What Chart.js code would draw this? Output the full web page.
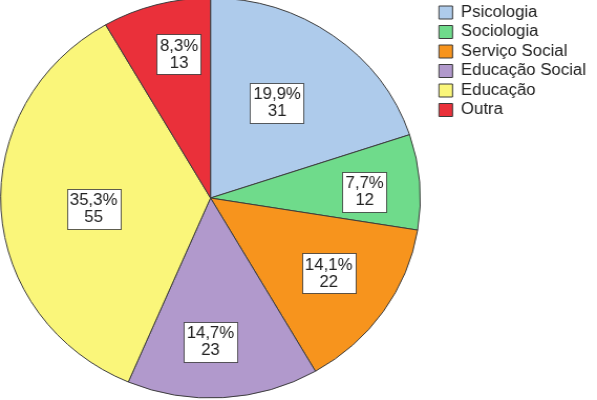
<!DOCTYPE html>
<html lang="pt-br">
<head>
<meta charset="UTF-8" />
<title>Área de formação</title>
<script src="https://cdn.jsdelivr.net/npm/chart.js"></script>
<style>
  html, body { margin: 0; padding: 0; background: #fff; overflow: hidden; }
  /* a imagem original está ligeiramente esticada na horizontal */
  .grafico { width: 569px; height: 400px; transform: scaleX(1.0492); transform-origin: 0 0; }
</style>
</head>
<body>
<div class="grafico"><canvas id="graficoPizza" width="569" height="400"></canvas></div>

<script>
  var categorias = ["Psicologia", "Sociologia", "Serviço Social", "Educação Social", "Educação", "Outra"];
  var contagens = [31, 12, 22, 23, 55, 13];
  var cores = ["#aecbeb", "#6fdb8b", "#f7941d", "#b199cc", "#faf67a", "#ea303a"];
  // onde fica cada rótulo: fração do raio e desvio (graus) do meio da fatia
  var distRotulo = [0.571, 0.735, 0.677, 0.72, 0.56, 0.733];
  var desvioRotulo = [-2, 2.3, -0.9, 3.5, -2.2, 3.2];

  var total = 0;
  for (var i = 0; i < contagens.length; i++) total += contagens[i];

  var fonte = '16px "Liberation Sans", Arial, sans-serif';

  // empurra a legenda um pouco para a direita, longe da pizza
  var afastaLegenda = {
    id: "afastaLegenda",
    afterLayout: function (chart) {
      chart.legend.left += 13.5;
      chart.legend.right += 13.5;
    }
  };

  // caixinhas brancas com % e contagem
  var rotulos = {
    id: "rotulos",
    afterDatasetsDraw: function (chart) {
      var ctx = chart.ctx;
      var arcos = chart.getDatasetMeta(0).data;
      ctx.save();
      ctx.font = fonte;
      ctx.textAlign = "center";
      ctx.textBaseline = "middle";
      for (var i = 0; i < arcos.length; i++) {
        var a = arcos[i].getProps(["x", "y", "startAngle", "endAngle", "outerRadius"], true);
        var meio = (a.startAngle + a.endAngle) / 2 + desvioRotulo[i] * Math.PI / 180;
        var cx = a.x + Math.cos(meio) * a.outerRadius * distRotulo[i];
        var cy = a.y + Math.sin(meio) * a.outerRadius * distRotulo[i];
        var pct = (contagens[i] / total * 100).toFixed(1).replace(".", ",") + "%";
        var linha2 = String(contagens[i]);
        var w = Math.max(ctx.measureText(pct).width, ctx.measureText(linha2).width) + 6;
        var h = 40;
        var x0 = Math.round(cx - w / 2) + 0.5;
        var y0 = Math.round(cy - h / 2) + 0.5;
        ctx.fillStyle = "#ffffff";
        ctx.fillRect(x0, y0, Math.round(w), h);
        ctx.strokeStyle = "rgba(40, 40, 40, 0.75)";
        ctx.lineWidth = 1;
        ctx.strokeRect(x0, y0, Math.round(w), h);
        ctx.fillStyle = "#222222";
        ctx.fillText(pct, cx, cy - 8);
        ctx.fillText(linha2, cx, cy + 9);
      }
      ctx.restore();
    }
  };

  var chartPizza = new Chart(graficoPizza, {
    type: "pie",
    data: {
      labels: categorias,
      datasets: [{
        data: contagens,
        backgroundColor: cores,
        borderColor: "#3c3c3c",
        borderWidth: 1,
        radius: 200,
        clip: false
      }]
    },
    options: {
      responsive: false,
      animation: false,
      layout: { padding: { left: 0, right: 14, top: 1, bottom: 5 } },
      plugins: {
        tooltip: { enabled: false },
        legend: {
          position: "right",
          align: "start",
          labels: {
            boxWidth: 13,
            boxHeight: 13,
            padding: 3.5,
            color: "#222222",
            font: { family: '"Liberation Sans", Arial, sans-serif', size: 16 }
          }
        }
      }
    },
    plugins: [afastaLegenda, rotulos]
  });
</script>
</body>
</html>
